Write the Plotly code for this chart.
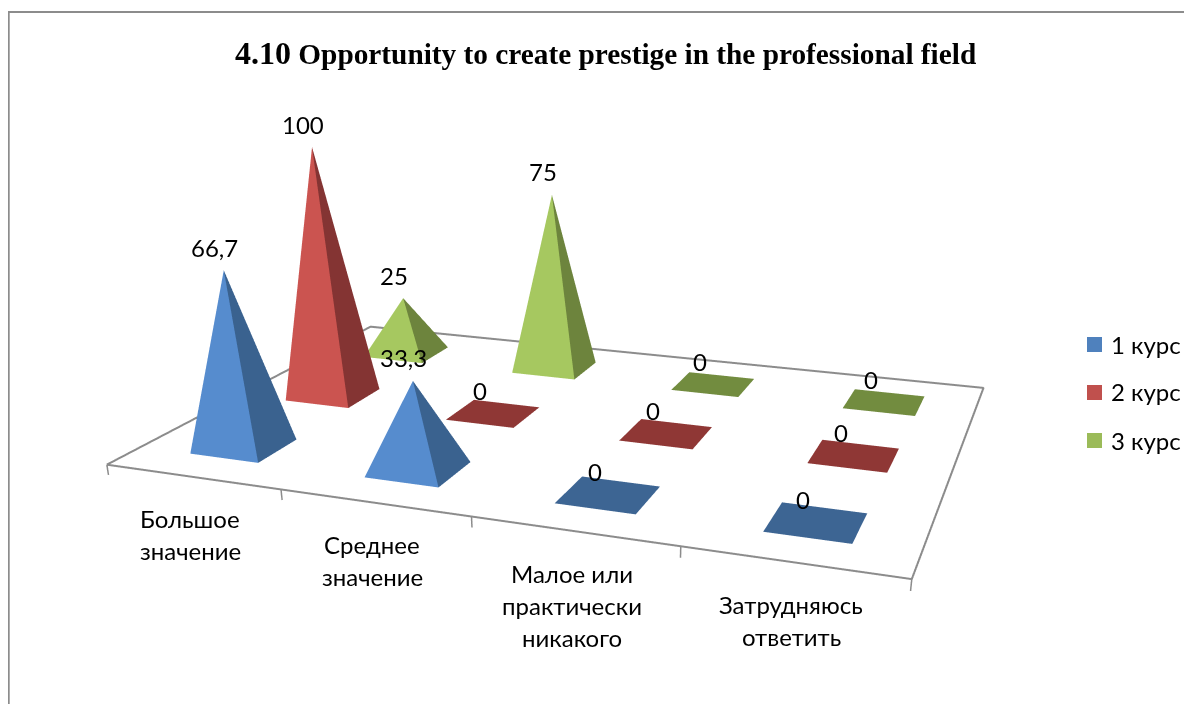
import plotly.graph_objects as go

categories = ["Большое\nзначение", "Среднее\nзначение", "Малое или\nпрактически\nникакого", "Затрудняюсь\nответить"]
series_names = ["1 курс", "2 курс", "3 курс"]
values_1 = [66.7, 33.3, 0, 0]
values_2 = [100, 0, 0, 0]
values_3 = [25, 75, 0, 0]
value_labels_1 = ["66,7", "33,3", "0", "0"]
value_labels_2 = ["100", "0", "0", "0"]
value_labels_3 = ["25", "75", "0", "0"]
front_colors = ["#568CCE", "#CB5450", "#A6C860"]
side_colors = ["#3A628F", "#843433", "#6D843D"]
flat_colors = ["#3D6593", "#8F3735", "#728C3F"]
legend_colors = ["#4F81BD", "#C0504D", "#9BBB59"]
label_font = "Lato"
label_size = 24
half = 0.2
FW, FH = 1184, 1170


def px(X):
    return (X - 8) / FW


def py(Y):
    return 1 - (Y - 8) / FH


all_values = [values_1, values_2, values_3]
all_labels = [value_labels_1, value_labels_2, value_labels_3]
fig = go.Figure()
annotations = []
for s, (vals, labs) in enumerate(zip(all_values, all_labels)):
    xs, ys, zs, i, j, k, fc = [], [], [], [], [], [], []
    yc = s + 0.5
    for c, v in enumerate(vals):
        xc = c + 0.5
        b = len(xs)
        xs += [xc - half, xc + half, xc + half, xc - half, xc]
        ys += [yc - half, yc - half, yc + half, yc + half, yc]
        zs += [0, 0, 0, 0, v]
        if v == 0:
            i += [b, b]; j += [b + 1, b + 2]; k += [b + 2, b + 3]
            fc += [flat_colors[s]] * 2
        else:
            i += [b, b + 1, b + 2, b + 3]
            j += [b + 1, b + 2, b + 3, b]
            k += [b + 4, b + 4, b + 4, b + 4]
            fc += [front_colors[s], side_colors[s], side_colors[s], front_colors[s]]
        annotations.append(dict(x=xc, y=yc, z=v, text=labs[c], showarrow=False,
                                xanchor="center", yanchor="middle",
                                xshift=-13 if v == 0 else -9, yshift=23,
                                font=dict(family=label_font, size=label_size, color="#000")))
    fig.add_trace(go.Mesh3d(x=xs, y=ys, z=zs, i=i, j=j, k=k, facecolor=fc,
                            name=series_names[s], showlegend=False, flatshading=True,
                            lighting=dict(ambient=1, diffuse=0, specular=0, fresnel=0, roughness=1),
                            hoverinfo="skip"))
n_c, n_s = len(categories), len(series_names)
fig.add_trace(go.Scatter3d(x=[0, n_c, n_c, 0, 0], y=[0, 0, n_s, n_s, 0], z=[0] * 5, mode="lines",
                           line=dict(color="#8c8c8c", width=4), showlegend=False, hoverinfo="skip"))
for c in range(n_c + 1):
    fig.add_trace(go.Scatter3d(x=[c, c], y=[0, 0], z=[0, -4], mode="lines",
                               line=dict(color="#8c8c8c", width=3), showlegend=False, hoverinfo="skip"))
for c, cat in enumerate(categories):
    for ln, part in enumerate(cat.split("\n")):
        annotations.append(dict(x=c + 0.5, y=0, z=0, text=part, showarrow=False, xanchor="center",
                                yanchor="middle", xshift=-2, yshift=-42 - 32 * ln,
                                font=dict(family=label_font, size=label_size, color="#000")))
page_ann = [dict(xref="paper", yref="paper", x=px(1109), y=py(344 + 48 * n), text=nm, showarrow=False,
                 xanchor="left", yanchor="middle", font=dict(family=label_font, size=label_size, color="#000"))
            for n, nm in enumerate(series_names)]
page_ann.append(dict(xref="paper", yref="paper", x=px(605), y=py(53), showarrow=False, xanchor="center", yanchor="middle",
                     text='<b><span style="font-size:32px">4.10</span> Opportunity to create prestige in the professional field</b>',
                     font=dict(family="Liberation Serif", size=29.3, color="#000")))
shapes = [dict(type="rect", xref="paper", yref="paper", x0=px(1087), x1=px(1102), y0=py(337 + 48 * n), y1=py(352 + 48 * n),
               fillcolor=legend_colors[n], line=dict(width=0)) for n in range(n_s)]
shapes += [
    dict(type="line", xref="paper", yref="paper", x0=px(8), x1=px(1192), y0=py(12), y1=py(12),
         line=dict(color="#8c8c8c", width=2)),
    dict(type="line", xref="paper", yref="paper", x0=px(8.7), x1=px(8.7), y0=0, y1=py(12),
         line=dict(color="#8c8c8c", width=2)),
]
hidden = dict(visible=False, showgrid=False, zeroline=False, showspikes=False)
fig.update_layout(
    width=FW, height=FH, margin=dict(l=0, r=0, t=0, b=0), paper_bgcolor="white", showlegend=False,
    scene=dict(domain=dict(x=[0, 1], y=[0, 1]),
               xaxis=dict(range=[0, n_c], **hidden), yaxis=dict(range=[0, n_s], **hidden),
               zaxis=dict(range=[-5, 100], **hidden),
               aspectmode="manual", aspectratio=dict(x=1.6, y=1.1128, z=0.5751),
               camera=dict(eye=dict(x=1.0287, y=-2.7292, z=0.7365),
                           center=dict(x=-0.058, y=0.3035, z=-0.815), up=dict(x=0, y=0, z=1)),
               bgcolor="rgba(0,0,0,0)", annotations=annotations),
    annotations=page_ann, shapes=shapes)
fig.write_html("out.html")
